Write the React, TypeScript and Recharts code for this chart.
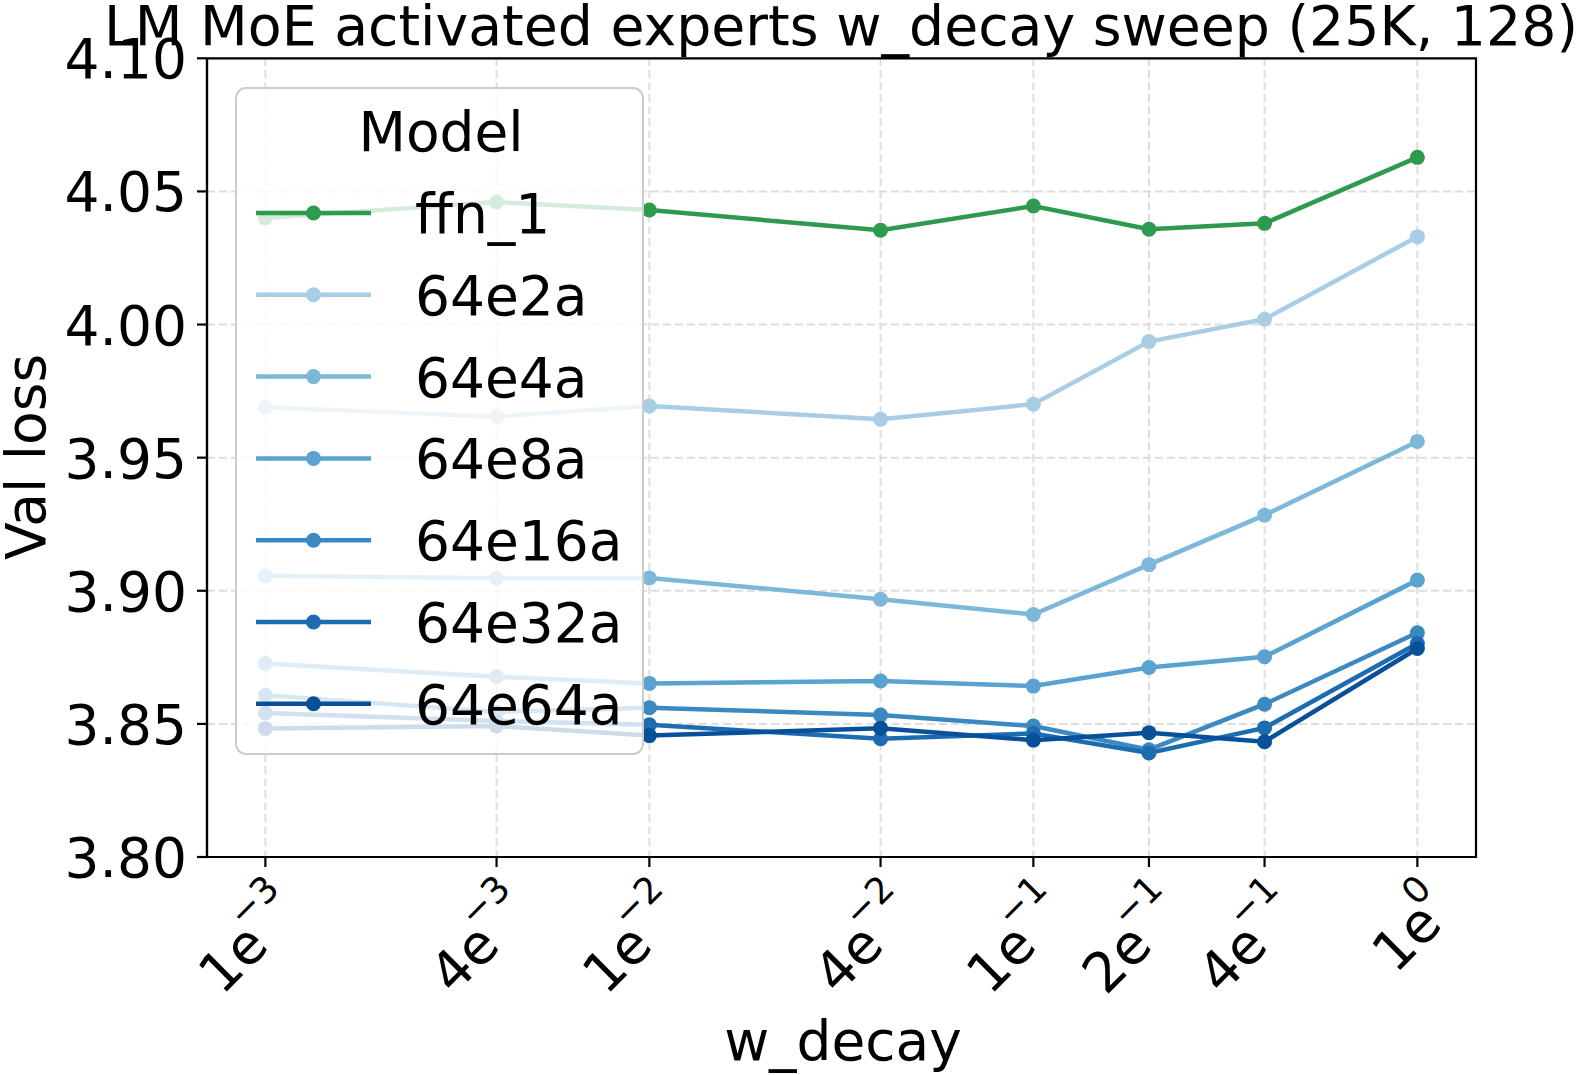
import { LineChart, Line, XAxis, YAxis, CartesianGrid, Legend, ReferenceArea } from 'recharts';

// x values (weight decay) and how their tick labels are written
const wDecay = [0.001, 0.004, 0.01, 0.04, 0.1, 0.2, 0.4, 1];
const tickMantissa = ['1', '4', '1', '4', '1', '2', '4', '1'];
const tickExponent = ['\u22123', '\u22123', '\u22122', '\u22122', '\u22121', '\u22121', '\u22121', '0'];
const yTicks = [3.8, 3.85, 3.9, 3.95, 4.0, 4.05, 4.1];

// val loss per model, one entry per w_decay value
const ffn1 = [4.04, 4.046, 4.043, 4.0354, 4.0445, 4.0358, 4.038, 4.0628];
const e2a = [3.9689, 3.9654, 3.9694, 3.9644, 3.9701, 3.9936, 4.002, 4.033];
const e4a = [3.9056, 3.9047, 3.9048, 3.8968, 3.8911, 3.9098, 3.9284, 3.9561];
const e8a = [3.8727, 3.8677, 3.8652, 3.8661, 3.8642, 3.8712, 3.8752, 3.904];
const e16a = [3.8608, 3.8545, 3.8561, 3.8533, 3.8492, 3.8403, 3.8574, 3.8842];
const e32a = [3.8541, 3.8511, 3.8497, 3.8444, 3.8464, 3.8391, 3.8485, 3.8802];
const e64a = [3.8483, 3.8492, 3.8456, 3.8484, 3.8439, 3.8467, 3.8433, 3.8783];

const modelNames = ['ffn_1', '64e2a', '64e4a', '64e8a', '64e16a', '64e32a', '64e64a'];
const modelValues = [ffn1, e2a, e4a, e8a, e16a, e32a, e64a];
const COLORS = ['#2e9a4e', '#a8cde5', '#7db8da', '#5aa2cf', '#3a89c1', '#1d6cb1', '#08509a'];

const FONT = '"DejaVu Sans", sans-serif';
const FS = 55;

const data = wDecay.map((w, i) => {
  const row: any = { w };
  modelNames.forEach((name, j) => {
    row[name] = modelValues[j][i];
  });
  return row;
});

const X_DOMAIN = [Math.pow(10, -3.152), Math.pow(10, 0.1527)];

const XTick = (props: any) => {
  const { x, y, payload } = props;
  const i = wDecay.indexOf(payload.value);
  return (
    <g transform={`translate(${x},${y})`}>
      <text
        transform='translate(39,47) rotate(-45)'
        textAnchor='end'
        fontFamily={FONT}
        fontSize={FS}
        fill='#000'
      >
        {tickMantissa[i]}e
        <tspan fontSize={FS * 0.66} dx={-6} dy={-33}>
          {tickExponent[i]}
        </tspan>
      </text>
    </g>
  );
};

const YTick = (props: any) => {
  const { x, y, payload } = props;
  return (
    <text x={x} y={y + 20} textAnchor='end' fontFamily={FONT} fontSize={FS} fill='#000'>
      {payload.value.toFixed(2)}
    </text>
  );
};

const renderLegend = () => (
  <svg width={409} height={668} style={{ display: 'block' }}>
    <rect
      x={1}
      y={1}
      width={407}
      height={666}
      rx={10}
      fill='#fff'
      fillOpacity={0.8}
      stroke='#cccccc'
      strokeWidth={2}
    />
    <text x={206} y={64} textAnchor='middle' fontFamily={FONT} fontSize={FS} fill='#000'>
      Model
    </text>
    {modelNames.map((name, i) => {
      const cy = 126 + i * 81.8;
      return (
        <g key={name}>
          <line x1={21} x2={136} y1={cy} y2={cy} stroke={COLORS[i]} strokeWidth={4.5} />
          <circle cx={78.5} cy={cy} r={7.5} fill={COLORS[i]} />
          <text x={180} y={cy + 20} fontFamily={FONT} fontSize={FS} fill='#000'>
            {name}
          </text>
        </g>
      );
    })}
  </svg>
);

export default function App() {
  return (
    <div style={{ position: 'absolute', left: 0, top: 0, width: 1584, height: 1075, background: '#fff' }}>
      <LineChart
        width={1584}
        height={1075}
        data={data}
        margin={{ top: 58.3, right: 108, bottom: 68, left: 57 }}
      >
        <CartesianGrid stroke='#dddddd' strokeWidth={2} strokeDasharray='8 4' />
        <XAxis
          dataKey='w'
          type='number'
          scale='log'
          domain={X_DOMAIN}
          allowDataOverflow
          ticks={wDecay}
          interval={0}
          height={150}
          tick={<XTick />}
          tickSize={10}
          tickMargin={0}
          tickLine={{ stroke: '#000', strokeWidth: 2.2 }}
          axisLine={{ stroke: '#000', strokeWidth: 2.2 }}
        />
        <YAxis
          type='number'
          domain={[3.8, 4.1]}
          ticks={yTicks}
          interval={0}
          width={150}
          tick={<YTick />}
          tickSize={10}
          tickMargin={10}
          tickLine={{ stroke: '#000', strokeWidth: 2.2 }}
          axisLine={{ stroke: '#000', strokeWidth: 2.2 }}
        />
        {modelNames.map((name, i) => (
          <Line
            key={name}
            dataKey={name}
            stroke={COLORS[i]}
            strokeWidth={4.5}
            dot={{ r: 7.5, fill: COLORS[i], stroke: 'none' }}
            activeDot={false}
            isAnimationActive={false}
          />
        ))}
        <ReferenceArea
          x1={X_DOMAIN[0]}
          x2={X_DOMAIN[1]}
          y1={3.8}
          y2={4.1}
          fill='none'
          stroke='#000'
          strokeWidth={2.2}
          ifOverflow='visible'
        />
        <Legend
          content={renderLegend}
          layout='horizontal'
          verticalAlign='middle'
          align='center'
          wrapperStyle={{ left: 235, top: 87, width: 409, height: 668, bottom: 'auto', right: 'auto' }}
        />
      </LineChart>
      <svg
        width={1584}
        height={1075}
        style={{ position: 'absolute', left: 0, top: 0, pointerEvents: 'none' }}
      >
        <text x={841} y={44.5} textAnchor='middle' fontFamily={FONT} fontSize={55.3} fill='#000'>
          LM MoE activated experts w_decay sweep (25K, 128)
        </text>
        <text
          transform='translate(45,457) rotate(-90)'
          textAnchor='middle'
          fontFamily={FONT}
          fontSize={FS}
          fill='#000'
        >
          Val loss
        </text>
        <text x={843} y={1060} textAnchor='middle' fontFamily={FONT} fontSize={FS} fill='#000'>
          w_decay
        </text>
      </svg>
    </div>
  );
}
